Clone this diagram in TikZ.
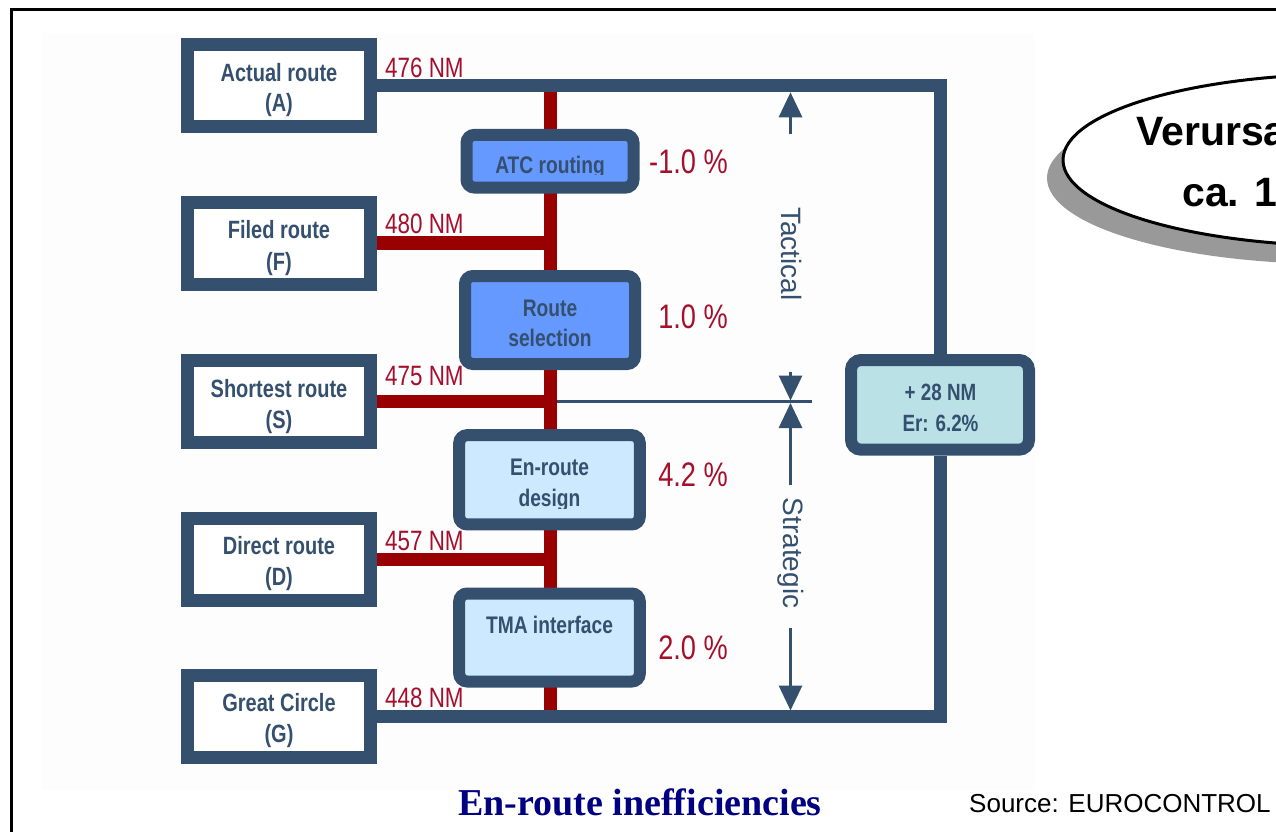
\documentclass[tikz,border=0pt]{standalone}
\usepackage{fontspec}
\setmainfont{Liberation Sans}
\newfontfamily\nar[FakeStretch=0.8]{Liberation Sans}
\newfontfamily\tms{Liberation Serif}
\usetikzlibrary{arrows.meta}
\definecolor{navy}{HTML}{34506E}
\definecolor{redl}{HTML}{990000}
\definecolor{redt}{HTML}{A50F2B}
\definecolor{boxblue}{HTML}{6699FF}
\definecolor{lightblue}{HTML}{CCE9FF}
\definecolor{tealbox}{HTML}{BAE1E6}
\definecolor{shadowgray}{HTML}{999999}
\definecolor{titlenavy}{HTML}{000080}
\definecolor{bgfaint}{HTML}{FDFDFD}
\begin{document}
\begin{tikzpicture}[x=1pt,y=-1pt,
  navyline/.style={draw=navy,line width=13pt,line join=miter},
  redline/.style={draw=redl,line width=13pt},
  routebox/.style={draw=navy,line width=13pt,fill=white,minimum width=183pt,minimum height=82pt,inner sep=0pt},
  midbox/.style={draw=navy,line width=12pt,rounded corners=8pt,inner sep=0pt},
  boxtxt/.style={anchor=base,text=navy,inner sep=0pt,font=\nar\bfseries\fontsize{25}{30}\selectfont},
  midtxt/.style={boxtxt,font=\nar\bfseries\fontsize{24}{29}\selectfont},
  ertxt/.style={boxtxt,font=\nar\bfseries\fontsize{23.5}{28}\selectfont},
  nmtxt/.style={anchor=base west,text=redt,inner sep=0pt,font=\nar\fontsize{28}{32}\selectfont},
  pcttxt/.style={anchor=base east,text=redt,inner sep=0pt,font=\nar\fontsize{34}{38}\selectfont},
  dimline/.style={draw=navy,line width=3pt},
  dimtip/.style={-{Triangle[length=25pt,width=23pt]}},
  sidetxt/.style={text=navy,inner sep=0pt,rotate=-90,font=\fontsize{28}{32}\selectfont},
  ovaltxt/.style={anchor=base west,inner sep=0pt,font=\bfseries\fontsize{41}{46}\selectfont},
]
\useasboundingbox (0,0) rectangle (1276,831);
\begin{scope}
  \clip (0,0) rectangle (1276,831);
  \fill[bgfaint] (42,33) rectangle (1035,790);
  \draw[line width=2.5pt] (11.5,9.5) rectangle (1300,860);
  \fill[shadowgray] (1335,178) ellipse [x radius=288, y radius=86];
  \draw[line width=3pt,fill=white] (1351,160) ellipse [x radius=288, y radius=86];
  \node[ovaltxt] (v1) at (1136,145) {Verursa};
  \node[ovaltxt] (v2) at (1182,206) {ca. 1};
\end{scope}

% left route boxes
\node[routebox] (A) at (279,85) {};
\node[routebox] (F) at (279,243) {};
\node[routebox] (S) at (279,401.7) {};
\node[routebox] (D) at (279,559) {};
\node[routebox] (G) at (279,716.5) {};

% result box
\node[midbox,rounded corners=10pt,fill=tealbox,minimum width=178pt,minimum height=89.7pt] (ER) at (940,404.85) {};

% red trunk and branches
\coordinate (rt) at (550.5,85);
\coordinate (rb) at (550.5,716.5);
\draw[redline] (rt) -- (rb);
\draw[redline,line width=14pt] (F.east) -- (F.east -| rt);
\draw[redline] (S.east) -- (S.east -| rt);
\draw[redline] (D.east) -- (D.east -| rt);

% navy frame lines
\draw[navyline] (A.east) -| (ER.north);
\draw[navyline] (G.east) -| (ER.south);

% middle boxes
\node[midbox,fill=boxblue,minimum width=167pt,minimum height=52.7pt] (ATC) at (550,161.2) {};
\node[midbox,fill=boxblue,minimum width=170pt,minimum height=88pt] (RS) at (550,320) {};
\node[midbox,fill=lightblue,minimum width=180.6pt,minimum height=89.3pt] (ED) at (549.5,479.8) {};
\node[midbox,fill=lightblue,minimum width=180.6pt,minimum height=88pt] (TMA) at (549.5,637.5) {};

% left box texts
\node[boxtxt] (A1) at (279,81) {Actual route};
\node[boxtxt] (A2) at (279,111.5) {(A)};
\node[boxtxt] (F1) at (279,238.5) {Filed route};
\node[boxtxt] (F2) at (279,270) {(F)};
\node[boxtxt] (S1) at (279,397.5) {Shortest route};
\node[boxtxt] (S2) at (279,428) {(S)};
\node[boxtxt] (D1) at (279,554.5) {Direct route};
\node[boxtxt] (D2) at (279,585.3) {(D)};
\node[boxtxt] (G1) at (279,711.8) {Great Circle};
\node[boxtxt] (G2) at (279,742.8) {(G)};

% middle box texts
\begin{scope}
  \clip (470,140) rectangle (630,174.8);
  \node[midtxt] (ATC1) at (550,173) {ATC routing};
\end{scope}
\node[midtxt] (RS1) at (550,316.7) {Route};
\node[midtxt] (RS2) at (550,346.7) {selection};
\node[midtxt] (ED1) at (549.5,475) {En-route};
\begin{scope}
  \clip (465,480) rectangle (635,508.6);
  \node[midtxt] (ED2) at (549.5,506.7) {design};
\end{scope}
\node[midtxt] (TMA1) at (549.5,633.3) {TMA interface};
\node[ertxt] (ER1) at (940.5,400) {+ 28 NM};
\node[ertxt] (ER2) at (940.5,431.7) {Er: 6.2\%};

% distance labels
\node[nmtxt] (n1) at (385,77) {476 NM};
\node[nmtxt] (n2) at (385,233.3) {480 NM};
\node[nmtxt] (n3) at (385,385) {475 NM};
\node[nmtxt] (n4) at (385,550.7) {457 NM};
\node[nmtxt] (n5) at (385,707.3) {448 NM};

% percentages
\node[pcttxt] (p1) at (728,173.3) {-1.0 \%};
\node[pcttxt] (p2) at (728,328.3) {1.0 \%};
\node[pcttxt] (p3) at (728,486) {4.2 \%};
\node[pcttxt] (p4) at (728,659.3) {2.0 \%};

% dimension arrows
\coordinate (d1a) at (790.5,134);
\coordinate (d1b) at (790.5,92.3);
\coordinate (d2a) at (790.5,372);
\coordinate (d2b) at (790.5,400.5);
\coordinate (d3a) at (790.5,485);
\coordinate (d3b) at (790.5,403);
\coordinate (d4a) at (790.5,628);
\coordinate (d4b) at (790.5,710.5);
\coordinate (h1) at (557,401.7);
\coordinate (h2) at (811.7,401.7);
\draw[dimline,dimtip] (d1a) -- (d1b);
\draw[dimline,dimtip] (d2a) -- (d2b);
\draw[dimline] (h1) -- (h2);
\draw[dimline,dimtip] (d3a) -- (d3b);
\draw[dimline,dimtip] (d4a) -- (d4b);
\node[sidetxt] (tac) at (791,254) {Tactical};
\node[sidetxt] (str) at (791,553) {Strategic};

% title and source
\node[anchor=base,inner sep=0pt,text=titlenavy,font=\tms\bfseries\fontsize{38}{42}\selectfont] (title) at (640,815) {En-route inefficiencies};
\node[anchor=base west,inner sep=0pt,font=\fontsize{26}{30}\selectfont] (src) at (969,812) {Source: EUROCONTROL};
\end{tikzpicture}
\end{document}
